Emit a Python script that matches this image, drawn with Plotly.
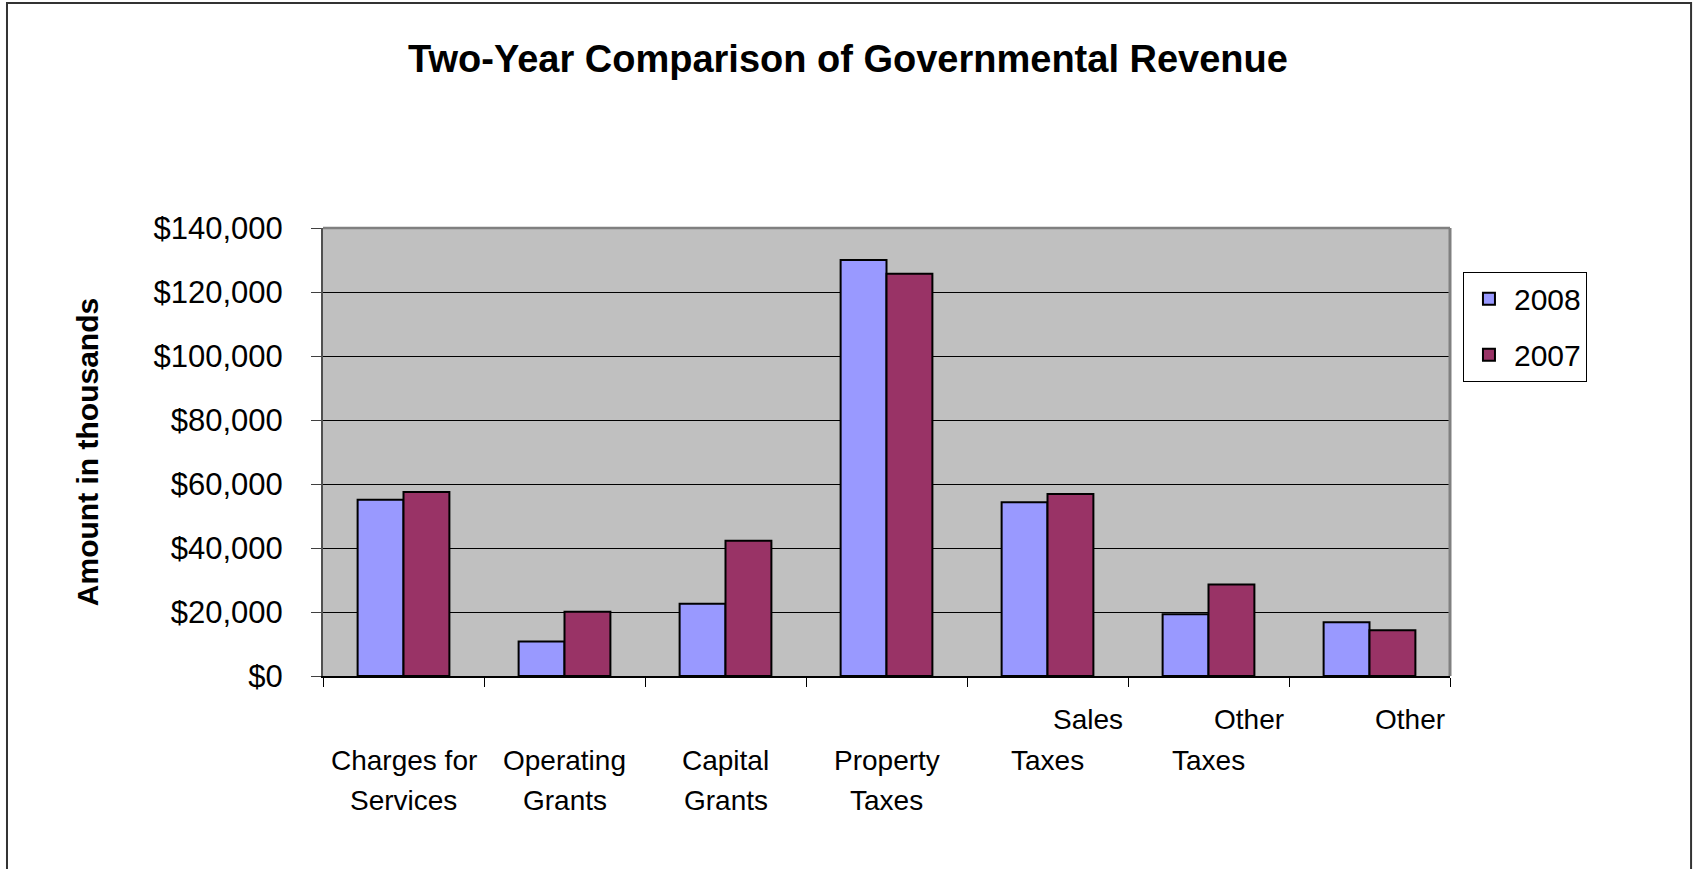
import plotly.graph_objects as go

categories = ["Charges for Services", "Operating Grants", "Capital Grants",
              "Property Taxes", "Sales Taxes", "Other Taxes", "Other"]
values_2008 = [55100, 10800, 22600, 130000, 54300, 19300, 16800]
values_2007 = [57500, 20100, 42300, 125700, 56900, 28600, 14300]

# category label lines as printed (top / middle / bottom rows)
label_top = ["", "", "", "", "Sales", "Other", "Other"]
label_mid = ["Charges for", "Operating", "Capital", "Property", "Taxes", "Taxes", ""]
label_bot = ["Services", "Grants", "Grants", "Taxes", "", "", ""]

y_ticks = [0, 20000, 40000, 60000, 80000, 100000, 120000, 140000]
y_tick_text = ["$0", "$20,000", "$40,000", "$60,000", "$80,000",
               "$100,000", "$120,000", "$140,000"]

FONT = "Liberation Sans, Arial, sans-serif"

fig = go.Figure()
fig.add_trace(go.Bar(x=categories, y=values_2008, name="2008", legendgroup="a",
                     marker=dict(color="#9999FF", line=dict(color="black", width=2))))
fig.add_trace(go.Bar(x=categories, y=values_2007, name="2007", legendgroup="b",
                     marker=dict(color="#993366", line=dict(color="black", width=2))))

annotations = []
for cat, t, m, b in zip(categories, label_top, label_mid, label_bot):
    for txt, yy, xs in ((t, -0.096, 40), (m, -0.1875, 0), (b, -0.277, 0)):
        if txt:
            annotations.append(dict(x=cat, xref="x", y=yy, yref="paper", text=txt,
                                    showarrow=False, xshift=xs, yanchor="middle",
                                    xanchor="center",
                                    font=dict(family=FONT, size=28, color="black")))

fig.update_layout(
    width=1696, height=869,
    margin=dict(l=323, r=246, t=228, b=193),
    paper_bgcolor="white", plot_bgcolor="#C0C0C0",
    barmode="group", bargap=0.43, bargroupgap=0,
    title=dict(text="<b>Two-Year Comparison of Governmental Revenue</b>",
               x=0.5, xref="container", xanchor="center",
               y=0.932, yref="container", yanchor="middle",
               font=dict(family=FONT, size=38, color="black")),
    font=dict(family=FONT, color="black"),
    legend=dict(x=1.0115, xanchor="left", y=0.9025, yanchor="top",
                bgcolor="white", bordercolor="black", borderwidth=1,
                itemwidth=40,
                font=dict(family=FONT, size=30, color="black"),
                traceorder="grouped", tracegroupgap=14),
    xaxis=dict(showticklabels=False, ticks="outside", ticklen=9, tickcolor="black",
               tickson="boundaries", showline=True, linecolor="black", linewidth=1.5,
               showgrid=False, zeroline=False),
    yaxis=dict(range=[0, 140000], tickvals=y_ticks, ticktext=y_tick_text,
               ticks="outside", ticklen=10, tickcolor="#404040",
               ticklabelstandoff=22,
               tickfont=dict(family=FONT, size=31, color="black"),
               showline=True, linecolor="#505050", linewidth=2,
               showgrid=True, gridcolor="black", gridwidth=1, zeroline=False,
               title=dict(text="<b>Amount in thousands</b>", standoff=46,
                          font=dict(family=FONT, size=30, color="black"))),
    annotations=annotations,
    shapes=[
        dict(type="line", xref="paper", yref="paper", x0=0, x1=1, y0=1, y1=1,
             line=dict(color="#808080", width=2.5)),
        dict(type="line", xref="paper", yref="paper", x0=1, x1=1, y0=0, y1=1,
             line=dict(color="#808080", width=3)),
        dict(type="rect", xref="paper", yref="paper", x0=-0.2804, x1=1.2139,
             y0=-0.45, y1=1.502, line=dict(color="#333333", width=2)),
    ],
    showlegend=True,
)

fig.write_html("out.html", config={"displayModeBar": False},
               post_script="document.body.style.margin='0px';document.body.style.overflow='hidden';")
